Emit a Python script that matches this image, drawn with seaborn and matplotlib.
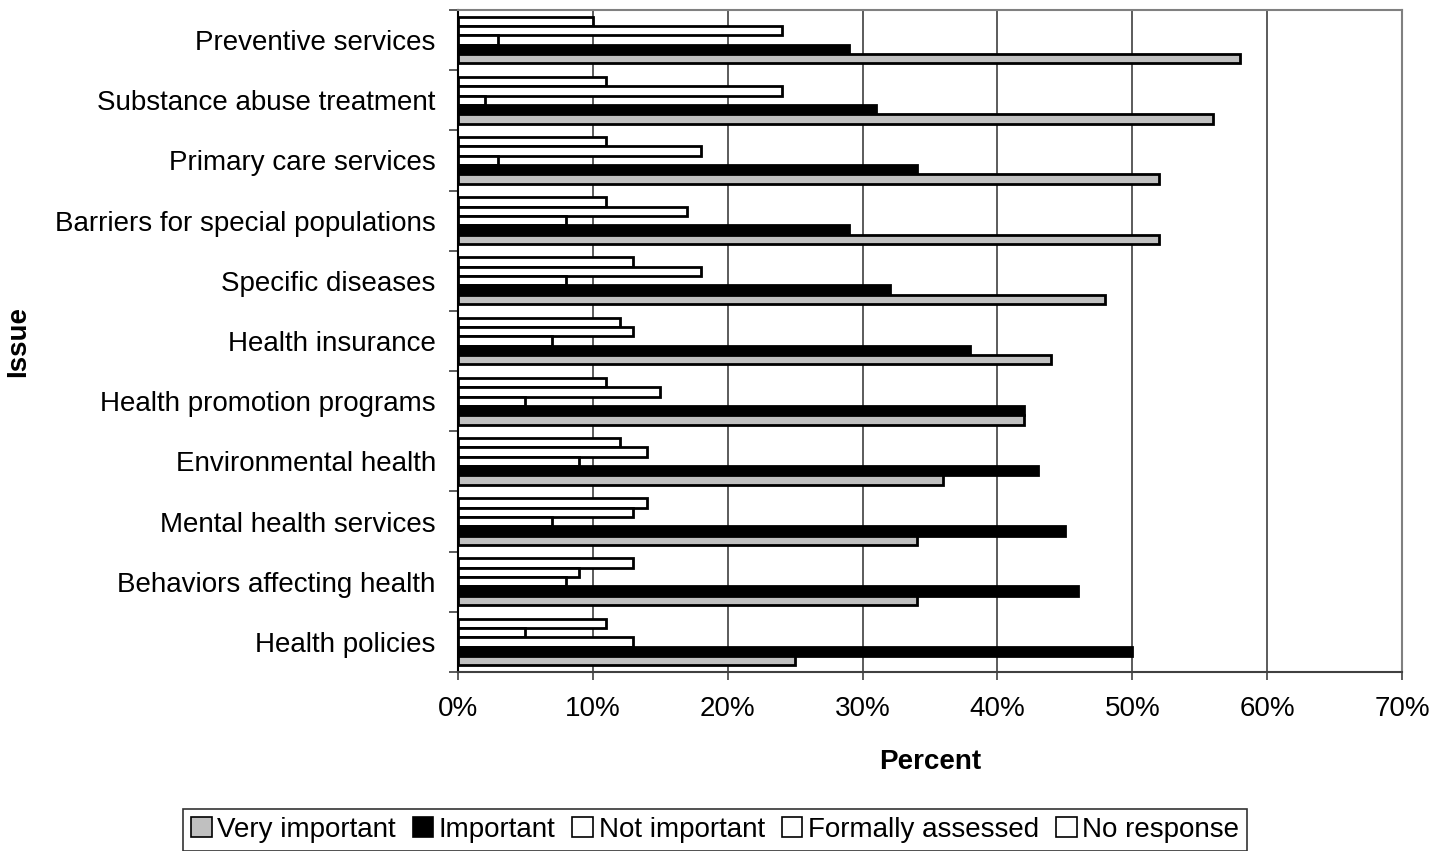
import matplotlib
matplotlib.use("Agg")
import matplotlib.pyplot as plt
from matplotlib.patches import Patch
from matplotlib.ticker import FixedLocator, PercentFormatter
import seaborn as sns
import pandas as pd

issues = ["Preventive services", "Substance abuse treatment", "Primary care services",
          "Barriers for special populations", "Specific diseases", "Health insurance",
          "Health promotion programs", "Environmental health", "Mental health services",
          "Behaviors affecting health", "Health policies"]
very_important = [58, 56, 52, 52, 48, 44, 42, 36, 34, 34, 25]
important = [29, 31, 34, 29, 32, 38, 42, 43, 45, 46, 50]
not_important = [3, 2, 3, 8, 8, 7, 5, 9, 7, 8, 13]
formally_assessed = [24, 24, 18, 17, 18, 13, 15, 14, 13, 9, 5]
no_response = [10, 11, 11, 11, 13, 12, 11, 12, 14, 13, 11]
series_names = ["Very important", "Important", "Not important", "Formally assessed", "No response"]
x_ticks = [0, 10, 20, 30, 40, 50, 60, 70]

series_values = [very_important, important, not_important, formally_assessed, no_response]
colors = {"Very important": "#C0C0C0", "Important": "#000000", "Not important": "#FFFFFF",
          "Formally assessed": "#FFFFFF", "No response": "#FFFFFF"}

rows = []
for name, vals in zip(series_names, series_values):
    for issue, v in zip(issues, vals):
        rows.append({"Issue": issue, "Series": name, "Percent": v})
df = pd.DataFrame(rows)

sns.set_theme(style="white")
plt.rcParams["font.family"] = ["Liberation Sans", "DejaVu Sans"]
plt.rcParams["text.color"] = "black"
plt.rcParams["axes.labelcolor"] = "black"
plt.rcParams["xtick.color"] = "black"
plt.rcParams["ytick.color"] = "black"

FS = 20

fig = plt.figure(figsize=(14.42, 8.51), dpi=100)
ax = fig.add_axes([458/1442, 1-672/851, (1402-458)/1442, (672-10)/851])

hue_order = list(reversed(series_names))
sns.barplot(data=df, y="Issue", x="Percent", hue="Series", order=issues, hue_order=hue_order,
            palette=colors, orient="h", width=0.775, edgecolor="black", linewidth=2.0,
            saturation=1, legend=False, ax=ax, errorbar=None)

ax.set_xlim(0, 70)
ax.set_ylim(len(issues) - 0.5, -0.5)
ax.xaxis.set_major_locator(FixedLocator(x_ticks))
ax.xaxis.set_major_formatter(PercentFormatter(decimals=0))
ax.grid(axis="x", color="#404040", linewidth=1.2)
ax.set_axisbelow(True)
ax.set_xlabel("")
ax.set_ylabel("")

for s in ["top", "right"]:
    ax.spines[s].set_color("#808080")
    ax.spines[s].set_linewidth(1.5)
ax.spines["left"].set_color("black")
ax.spines["left"].set_linewidth(1.5)
ax.spines["bottom"].set_color("#404040")
ax.spines["bottom"].set_linewidth(1.5)

ax.tick_params(axis="y", which="major", length=0, pad=16, labelsize=FS, labelcolor="black")
ax.yaxis.set_minor_locator(FixedLocator([i - 0.5 for i in range(len(issues) + 1)]))
ax.tick_params(axis="y", which="minor", length=6.5, width=1.2, color="#404040", left=True)
ax.tick_params(axis="x", which="major", length=6, width=1.2, color="#404040", pad=11,
               labelsize=FS, bottom=True, labelcolor="black")

fig.text(930/1442, 1-762/851, "Percent", ha="center", va="center", fontsize=FS, fontweight="bold",
         color="black")
fig.text(18/1442, 1-341/851, "Issue", ha="center", va="center", rotation=90, fontsize=FS,
         fontweight="bold", color="black")

handles = [Patch(facecolor=colors[n], edgecolor="black", linewidth=1.2, label=n) for n in series_names]
leg = fig.legend(handles=handles, loc="center", bbox_to_anchor=(715/1442, 1-830/851), ncol=5,
                 frameon=True, fancybox=False, fontsize=FS, handlelength=0.75, handleheight=0.75,
                 handletextpad=0.2, columnspacing=0.6, borderpad=0.3, borderaxespad=0,
                 labelcolor="black")
leg.get_frame().set_edgecolor("black")
leg.get_frame().set_linewidth(1.2)

fig.savefig("out.png", dpi=100)
